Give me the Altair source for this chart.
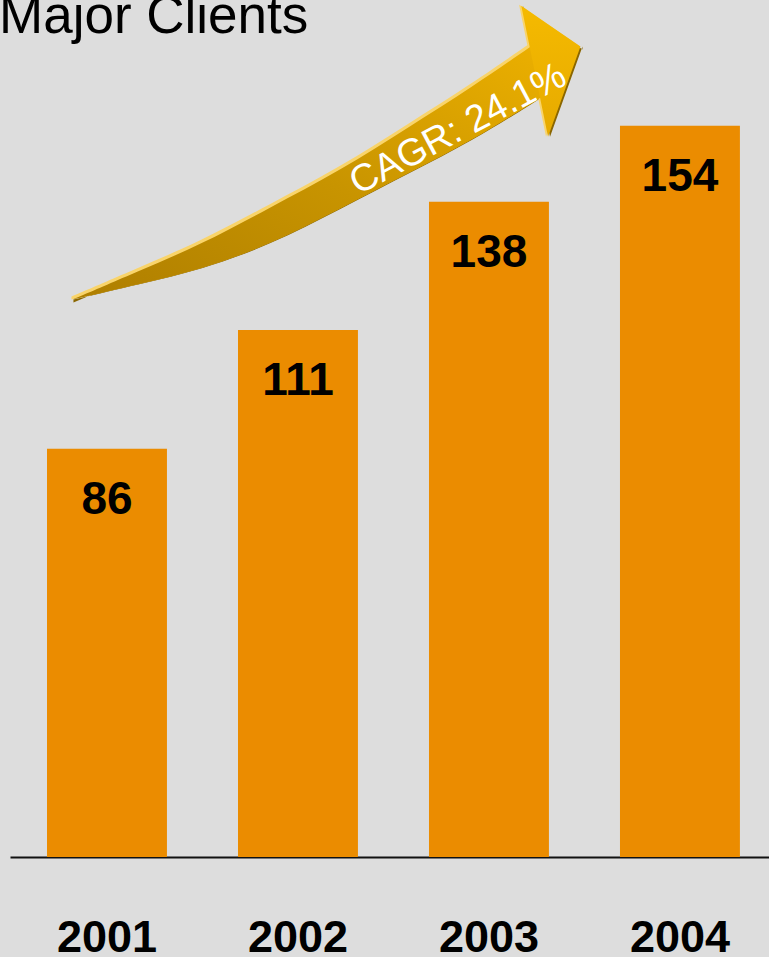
import altair as alt
import pandas as pd

# ---- data -------------------------------------------------------------
years = ["2001", "2002", "2003", "2004"]
clients = [86, 111, 138, 154]

title_text = "Major Clients"
cagr_text = "CAGR: 24.1%"

# Growth arrow outline, x in year-index units (0 = 2001), y in clients
arrow_body_x = [-0.18, 0.17, 0.49, 0.85, 1.22, 1.59, 1.90, 2.27]
arrow_body_top = [117.4, 123.5, 128.9, 136.7, 144.5, 154.0, 161.8, 172.1]
arrow_body_bottom = [117.4, 120.7, 123.7, 128.9, 136.5, 144.3, 150.6, 159.9]
arrow_head_x = [2.17, 2.31, 2.48]
arrow_head_top = [179.3, 175.4, 170.7]
arrow_head_bottom = [179.3, 151.7, 170.7]
cagr_x = [1.84]
cagr_y = [153.2]

# ---- styling ----------------------------------------------------------
FONT = "Liberation Sans"
BG = "#DDDDDD"
BAR = "#EB8C00"
SHADOW = "#8A6600"
HIGHLIGHT = "#F9D46A"

bars_df = pd.DataFrame({"year": years, "clients": clients})
body_df = pd.DataFrame({"t": arrow_body_x, "top": arrow_body_top, "bottom": arrow_body_bottom})
head_df = pd.DataFrame({"t": arrow_head_x, "top": arrow_head_top, "bottom": arrow_head_bottom})
cagr_df = pd.DataFrame({"t": cagr_x, "v": cagr_y, "label": [cagr_text]})
title_df = pd.DataFrame({"label": [title_text]})

y_scale = alt.Scale(domain=[0, 180.5], nice=False, zero=True)
band_scale = alt.Scale(type="band", paddingInner=0.372, paddingOuter=0.173, align=0.56)
arrow_x_scale = alt.Scale(domain=[-0.507, 3.467], nice=False, zero=False)

x_axis = alt.Axis(
    title=None,
    labelFont=FONT,
    labelFontSize=45,
    labelFontWeight="bold",
    labelColor="black",
    labelAngle=0,
    labelPadding=94,
    labelBaseline="alphabetic",
    ticks=False,
    tickSize=0,
    grid=False,
    domainColor="#111111",
    domainWidth=2,
)

bars = alt.Chart(bars_df).mark_bar(color=BAR).encode(
    x=alt.X("year:N", sort=years, scale=band_scale, axis=x_axis),
    y=alt.Y("clients:Q", scale=y_scale, axis=None),
)

values = alt.Chart(bars_df).mark_text(
    font=FONT, fontSize=46, fontWeight="bold", color="black",
    baseline="alphabetic", dy=65,
).encode(
    x=alt.X("year:N", sort=years, scale=band_scale, axis=None),
    y=alt.Y("clients:Q", scale=y_scale, axis=None),
    text="clients:Q",
)


def arrow_part(df, fill, dx=0, dy=0, interp="basis"):
    return alt.Chart(df).mark_area(
        fill=fill, interpolate=interp, xOffset=dx, yOffset=dy
    ).encode(
        x=alt.X("t:Q", scale=arrow_x_scale, axis=None),
        y=alt.Y("top:Q", scale=y_scale, axis=None),
        y2="bottom:Q",
    )


body_fill = {
    "gradient": "linear", "x1": 0, "y1": 1, "x2": 1, "y2": 0,
    "stops": [
        {"offset": 0, "color": "#AE7E00"},
        {"offset": 0.5, "color": "#C89400"},
        {"offset": 1, "color": "#ECB000"},
    ],
}
head_fill = {
    "gradient": "linear", "x1": 0, "y1": 0, "x2": 0, "y2": 1,
    "stops": [
        {"offset": 0, "color": "#F5BA00"},
        {"offset": 1, "color": "#E6AA00"},
    ],
}

shadow_body = arrow_part(body_df, SHADOW, 1, 3)
shadow_head = arrow_part(head_df, SHADOW, 2, 3, "linear")
hl_body = arrow_part(body_df, HIGHLIGHT, -1, -3)
hl_head = arrow_part(head_df, HIGHLIGHT, -2, -1, "linear")
main_body = arrow_part(body_df, body_fill)
main_head = arrow_part(head_df, head_fill, interp="linear")

cagr = alt.Chart(cagr_df).mark_text(
    font=FONT, fontSize=38, color="white", angle=332,
    align="center", baseline="middle",
).encode(
    x=alt.X("t:Q", scale=arrow_x_scale, axis=None),
    y=alt.Y("v:Q", scale=y_scale, axis=None),
    text="label:N",
)

title = alt.Chart(title_df).mark_text(
    font=FONT, fontSize=53, color="black", align="left", baseline="alphabetic",
).encode(
    x=alt.value(-11),
    y=alt.value(33),
    text="label:N",
)

chart = (
    alt.layer(
        bars, values,
        shadow_body, shadow_head, hl_body, hl_head, main_body, main_head,
        cagr, title,
    )
    .resolve_scale(x="independent")
    .properties(
        width=759,
        height=857,
        padding={"left": 10, "top": 0, "right": 0, "bottom": 100},
        autosize=alt.AutoSizeParams(type="none"),
        background=BG,
    )
    .configure_view(stroke=None)
)

chart.save("out.html", embed_options={"renderer": "svg", "actions": False})
